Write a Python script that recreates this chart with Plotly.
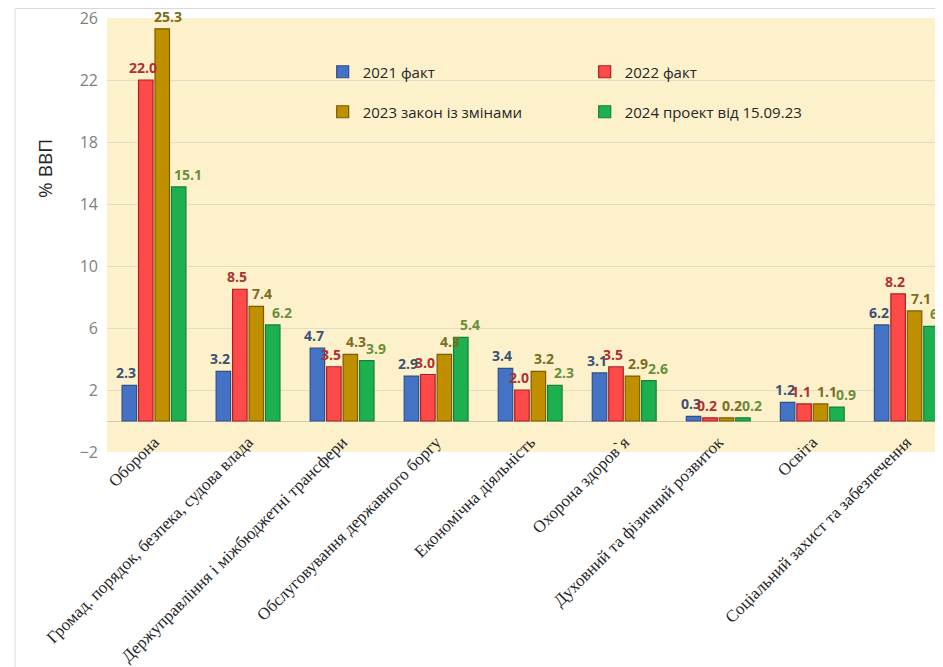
import plotly.graph_objects as go

categories = [
    "Оборона",
    "Громад. порядок, безпека, судова влада",
    "Держуправління і міжбюджетні трансфери",
    "Обслуговування державного боргу",
    "Економічна діяльність",
    "Охорона здоров`я",
    "Духовний та фізичний розвиток",
    "Освіта",
    "Соціальний захист та забезпечення",
]
v2021 = [2.3, 3.2, 4.7, 2.9, 3.4, 3.1, 0.3, 1.2, 6.2]
v2022 = [22.0, 8.5, 3.5, 3.0, 2.0, 3.5, 0.2, 1.1, 8.2]
v2023 = [25.3, 7.4, 4.3, 4.3, 3.2, 2.9, 0.2, 1.1, 7.1]
v2024 = [15.1, 6.2, 3.9, 5.4, 2.3, 2.6, 0.2, 0.9, 6.1]
series_names = ["2021 факт", "2022 факт", "2023 закон із змінами", "2024 проект від 15.09.23"]
y_ticks = [-2, 2, 6, 10, 14, 18, 22, 26]
y_title = "% ВВП"

series = [v2021, v2022, v2023, v2024]
fills = ["#4472C4", "#FF4A4A", "#BF8F00", "#1DB04E"]
edges = ["#2F4F8A", "#A82020", "#7A5C00", "#16803A"]
label_colors = ["#3B5275", "#B0302F", "#7D6B1E", "#6A8F3C"]
legend_ids = ["legend", "legend", "legend2", "legend2"]

# page body has an 8px margin; figure sized to fill the 943x667 window
W, H = 935, 659
ML, MR, MT, MB = 99, 0, 10, 215
PW, PH = W - ML - MR, H - MT - MB
X_RANGE = [-0.5, 8.39]
BARGAP, GROUPGAP = 0.3, 0.12
px_per_cat = PW / (X_RANGE[1] - X_RANGE[0])
slot = px_per_cat * (1 - BARGAP) / len(series)
label_nudge = [-3, -3, 6, 9]

fig = go.Figure()
annotations = []
for i, (name, vals, fc, ec, lc, lg) in enumerate(zip(series_names, series, fills, edges, label_colors, legend_ids)):
    fig.add_trace(go.Bar(
        x=categories, y=vals, name=name,
        marker=dict(color=fc, line=dict(color=ec, width=1.2)),
        legend=lg,
    ))
    offset = (i - (len(series) - 1) / 2) * slot + label_nudge[i]
    for c, v in zip(categories, vals):
        annotations.append(dict(
            x=c, y=v, xref="x", yref="y", text=f"{v:.1f}", showarrow=False,
            xanchor="center", yanchor="bottom", xshift=offset, yshift=1,
            font=dict(family="Open Sans", size=14, color=lc, weight="bold"),
        ))

annotations.append(dict(
    text=y_title, textangle=-90, showarrow=False,
    xref="paper", yref="paper",
    x=(37 - ML) / PW, y=(H - MB - 161) / PH,
    xanchor="center", yanchor="middle",
    font=dict(family="Open Sans", size=19, color="#262626"),
))

legend_common = dict(
    orientation="h",
    bgcolor="rgba(0,0,0,0)",
    font=dict(family="Open Sans", size=15, color="#262626"),
    entrywidth=217,
    entrywidthmode="pixels",
    itemwidth=30,
    xanchor="left",
    yanchor="middle",
    traceorder="normal",
)

fig.update_layout(
    width=W, height=H,
    margin=dict(l=ML, r=MR, t=MT, b=MB),
    paper_bgcolor="white",
    plot_bgcolor="#FDF1CC",
    barmode="group",
    bargap=BARGAP,
    bargroupgap=GROUPGAP,
    showlegend=True,
    legend=dict(x=0.258, y=0.8756, **legend_common),
    legend2=dict(x=0.258, y=0.7834, **legend_common),
    xaxis=dict(
        range=X_RANGE,
        tickangle=-45,
        tickfont=dict(family="Liberation Serif", size=17, color="#262626"),
        showgrid=False,
        showline=False,
        ticks="",
        automargin=False,
        ticklabelstandoff=-24,
    ),
    yaxis=dict(
        range=[-2, 26],
        tickvals=y_ticks,
        tickfont=dict(family="Open Sans", size=16, color="#7F7F7F"),
        showgrid=True,
        gridcolor="#E3DCC8",
        gridwidth=1,
        zeroline=True,
        zerolinecolor="#CFC9B8",
        zerolinewidth=1,
        showline=False,
        automargin=False,
        ticklabelstandoff=8,
        ticklabeloverflow="allow",
    ),
    annotations=annotations,
    shapes=[dict(
        type="rect", xref="paper", yref="paper",
        x0=(7 - ML) / PW, x1=1.05, y0=(H - MB - 700) / PH, y1=(H - MB - 0.5) / PH,
        line=dict(color="#D9D9D9", width=1), fillcolor="rgba(0,0,0,0)", layer="below",
    )],
)

fig.write_html("out.html")
